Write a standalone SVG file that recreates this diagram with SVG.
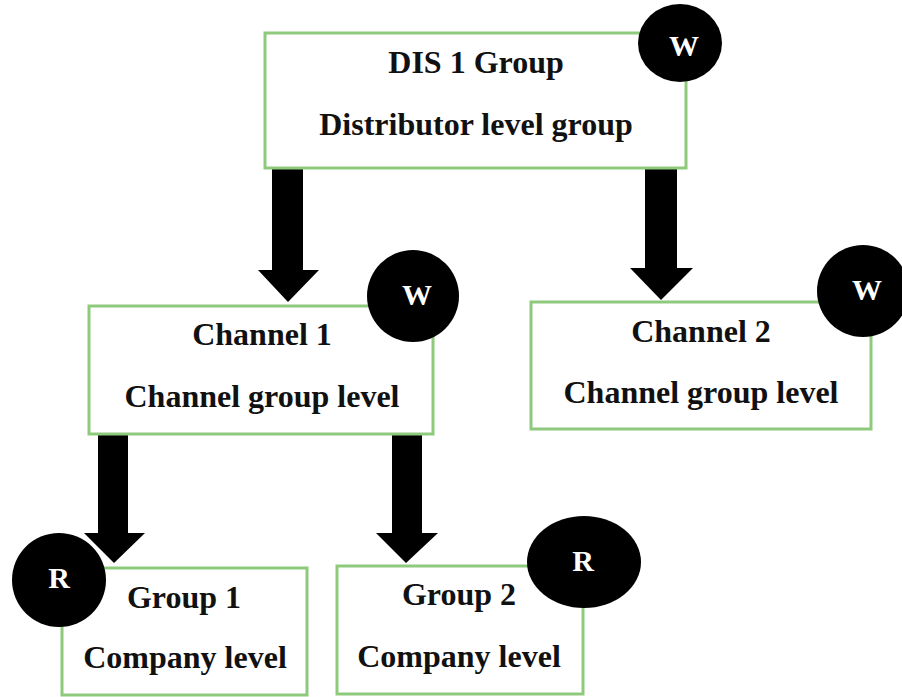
<svg xmlns="http://www.w3.org/2000/svg" width="902" height="697" viewBox="0 0 902 697">
<style>
.box{fill:#fff;stroke:#8ec97c;stroke-width:3}
.t{font-family:"Liberation Serif","Times New Roman",serif;font-weight:bold;font-size:32px;fill:#111;text-anchor:middle}
.badge{fill:#000}
.bt{font-family:"Liberation Serif","Times New Roman",serif;font-weight:bold;font-size:30px;fill:#fff;text-anchor:middle}
.arr{fill:#000}
</style>
<rect width="902" height="697" fill="#fff"/>
<g id="connectors">
<polygon class="arr" points="272,168 303,168 303,270 319,270 288,302 258,270 272,270"/>
<polygon class="arr" points="645,168 677,168 677,268 693,268 661,300 630,268 645,268"/>
<polygon class="arr" points="98,434 128,434 128,533 145,533 114,563 84,533 98,533"/>
<polygon class="arr" points="392,434 422,434 422,533 438,533 406,563 376,533 392,533"/>
</g>
<g id="dis1">
<rect class="box" x="265" y="33" width="421" height="135"/>
<text class="t" x="476" y="73">DIS 1 Group</text>
<text class="t" x="476" y="135">Distributor level group</text>
<ellipse class="badge" cx="680" cy="43" rx="42" ry="39"/>
<text class="bt" x="684" y="56">W</text>
</g>
<g id="channel1">
<rect class="box" x="89" y="306" width="344" height="128"/>
<text class="t" x="262" y="345">Channel 1</text>
<text class="t" x="262" y="407">Channel group level</text>
<circle class="badge" cx="413" cy="296" r="46"/>
<text class="bt" x="417" y="305">W</text>
</g>
<g id="channel2">
<rect class="box" x="531" y="302" width="340" height="127"/>
<text class="t" x="701" y="342">Channel 2</text>
<text class="t" x="701" y="403">Channel group level</text>
<circle class="badge" cx="863" cy="291" r="46"/>
<text class="bt" x="867" y="300">W</text>
</g>
<g id="group1">
<rect class="box" x="62" y="568" width="245" height="127"/>
<text class="t" x="184" y="608">Group 1</text>
<text class="t" x="185" y="668">Company level</text>
<circle class="badge" cx="59" cy="580" r="47"/>
<text class="bt" x="59" y="588">R</text>
</g>
<g id="group2">
<rect class="box" x="337" y="566" width="246" height="128"/>
<text class="t" x="459" y="605">Group 2</text>
<text class="t" x="459" y="667">Company level</text>
<ellipse class="badge" cx="584" cy="562" rx="57" ry="46"/>
<text class="bt" x="583" y="571">R</text>
</g>
</svg>
